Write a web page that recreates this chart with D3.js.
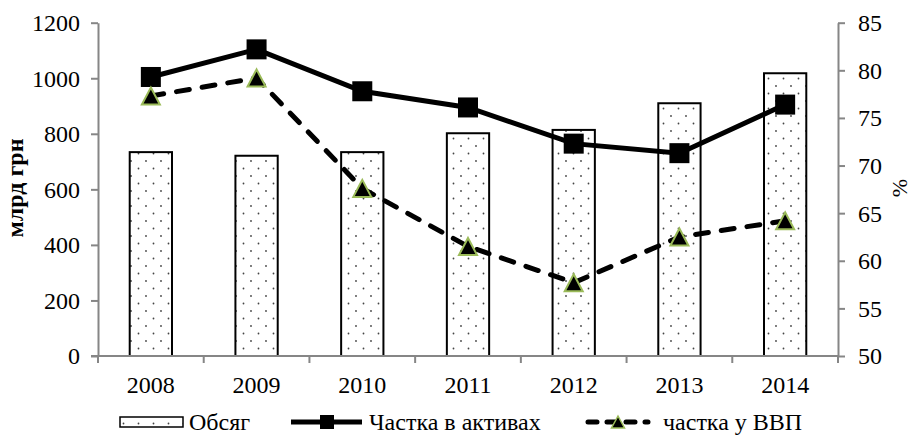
<!DOCTYPE html>
<html>
<head>
<meta charset="utf-8">
<script src="https://cdn.jsdelivr.net/npm/d3@7"></script>
<style>
  html, body { margin: 0; padding: 0; background: #fff; }
  svg { display: block; }
  text { font-family: "Liberation Serif", "Times New Roman", serif; fill: #000; }
</style>
</head>
<body>
<svg id="chart" width="912" height="436"></svg>
<script>
// Years on the category axis
const years = ["2008", "2009", "2010", "2011", "2012", "2013", "2014"];
// Volume, bn UAH (left axis)
const volume = [734, 721, 734, 802, 814, 910, 1018];
// Share in assets, % (right axis)
const shareAssets = [79.3, 82.2, 77.8, 76.1, 72.3, 71.3, 76.4];
// Share of GDP, % (right axis)
const shareGdp = [77.3, 79.2, 67.6, 61.5, 57.7, 62.5, 64.2];
// Axis ticks
const leftTicks = [0, 200, 400, 600, 800, 1000, 1200];
const rightTicks = [50, 55, 60, 65, 70, 75, 80, 85];
// Legend entries
const legendNames = ["Обсяг", "Частка в активах", "частка у ВВП"];

const svg = d3.select("#chart");
const plot = { left: 98, right: 838, top: 22.7, bottom: 356 };
const axisColor = "#868686";
const fontSize = 24;

const x = d3.scaleBand().domain(years).range([plot.left, plot.right]).padding(0);
const yL = d3.scaleLinear().domain([0, 1200]).range([plot.bottom, plot.top]);
const yR = d3.scaleLinear().domain([50, 85]).range([plot.bottom, plot.top]);
const cx = d => x(d) + x.bandwidth() / 2;
const barW = x.bandwidth() * 0.4;

// Dotted fill for the volume bars
const defs = svg.append("defs");
const pat = defs.append("pattern")
  .attr("id", "dots").attr("patternUnits", "userSpaceOnUse")
  .attr("width", 15).attr("height", 15);
pat.append("rect").attr("width", 15).attr("height", 15).attr("fill", "#fff");
pat.append("circle").attr("cx", 3.5).attr("cy", 3.5).attr("r", 0.9).attr("fill", "#444");
pat.append("circle").attr("cx", 11).attr("cy", 11).attr("r", 0.9).attr("fill", "#444");

// Bars
svg.append("g").selectAll("rect").data(years).join("rect")
  .attr("x", d => cx(d) - barW / 2)
  .attr("y", (d, i) => yL(volume[i]))
  .attr("width", barW)
  .attr("height", (d, i) => plot.bottom - yL(volume[i]))
  .attr("fill", "url(#dots)")
  .attr("stroke", "#000").attr("stroke-width", 2);

// Axes
function styleAxis(g) {
  g.selectAll("path.domain").attr("stroke", axisColor).attr("stroke-width", 2);
  g.selectAll(".tick line").attr("stroke", axisColor).attr("stroke-width", 2);
  g.selectAll(".tick text").attr("font-size", fontSize)
    .attr("font-family", "Liberation Serif, Times New Roman, serif").attr("fill", "#000");
}

const axL = svg.append("g").attr("transform", `translate(${plot.left},0)`)
  .call(d3.axisLeft(yL).tickValues(leftTicks).tickFormat(d3.format("d"))
    .tickSize(7).tickSizeOuter(0).tickPadding(11));
styleAxis(axL);
axL.selectAll(".tick text").attr("dy", "0.33em");

const axR = svg.append("g").attr("transform", `translate(${plot.right},0)`)
  .call(d3.axisRight(yR).tickValues(rightTicks).tickFormat(d3.format("d"))
    .tickSize(7).tickSizeOuter(0).tickPadding(13));
styleAxis(axR);
axR.selectAll(".tick text").attr("dy", "0.33em");

// Category axis: ticks at band boundaries
const axB = svg.append("g").attr("transform", `translate(0,${plot.bottom})`);
axB.append("line").attr("x1", plot.left - 7).attr("x2", plot.right)
  .attr("stroke", axisColor).attr("stroke-width", 2);
axB.selectAll("line.tk").data(years.concat(["end"])).join("line").attr("class", "tk")
  .attr("x1", (d, i) => plot.left + i * x.bandwidth())
  .attr("x2", (d, i) => plot.left + i * x.bandwidth())
  .attr("y1", 0).attr("y2", 7)
  .attr("stroke", axisColor).attr("stroke-width", 2);
axB.selectAll("text").data(years).join("text")
  .attr("x", d => cx(d)).attr("y", 37)
  .attr("text-anchor", "middle").attr("font-size", fontSize).text(d => d);

// Axis titles
svg.append("text").attr("transform", "translate(23,188) rotate(-90)")
  .attr("text-anchor", "middle").attr("font-size", fontSize).attr("font-weight", "bold")
  .text("млрд грн");
svg.append("text").attr("transform", "translate(907,188) rotate(-90)")
  .attr("text-anchor", "middle").attr("font-size", 22)
  .text("%");

// Lines
const line = arr => d3.line().x((d, i) => cx(years[i])).y(d => yR(d))(arr);

svg.append("path").attr("d", line(shareGdp))
  .attr("fill", "none").attr("stroke", "#000").attr("stroke-width", 5)
  .attr("stroke-dasharray", "13 13").attr("stroke-linecap", "round");

svg.append("path").attr("d", line(shareAssets))
  .attr("fill", "none").attr("stroke", "#000").attr("stroke-width", 5);

const sq = 20;
svg.append("g").selectAll("rect").data(shareAssets).join("rect")
  .attr("x", (d, i) => cx(years[i]) - sq / 2)
  .attr("y", d => yR(d) - sq / 2)
  .attr("width", sq).attr("height", sq).attr("fill", "#000");

const tri = (px, py, w, h) => `M${px},${py - h / 2}L${px + w / 2},${py + h / 2}L${px - w / 2},${py + h / 2}Z`;
svg.append("g").selectAll("path").data(shareGdp).join("path")
  .attr("d", (d, i) => tri(cx(years[i]), yR(d), 18, 17))
  .attr("fill", "#000").attr("stroke", "#9bbb59").attr("stroke-width", 2);

// Legend
const lg = svg.append("g");
const ly = 422, lb = 430;
lg.append("rect").attr("x", 120).attr("y", ly - 5).attr("width", 63).attr("height", 10)
  .attr("fill", "url(#dots)").attr("stroke", "#000").attr("stroke-width", 1.5);
lg.append("text").attr("x", 189).attr("y", lb).attr("font-size", fontSize).text(legendNames[0]);

lg.append("line").attr("x1", 291).attr("x2", 362).attr("y1", ly).attr("y2", ly)
  .attr("stroke", "#000").attr("stroke-width", 5);
lg.append("rect").attr("x", 327 - 7).attr("y", ly - 7).attr("width", 14).attr("height", 14).attr("fill", "#000");
lg.append("text").attr("x", 369).attr("y", lb).attr("font-size", fontSize).text(legendNames[1]);

lg.append("line").attr("x1", 588).attr("x2", 648).attr("y1", ly).attr("y2", ly)
  .attr("stroke", "#000").attr("stroke-width", 5)
  .attr("stroke-dasharray", "9 10").attr("stroke-linecap", "round");
lg.append("path").attr("d", tri(618, ly, 13, 12))
  .attr("fill", "#000").attr("stroke", "#9bbb59").attr("stroke-width", 1.5);
lg.append("text").attr("x", 663).attr("y", lb).attr("font-size", fontSize).text(legendNames[2]);
</script>
</body>
</html>
